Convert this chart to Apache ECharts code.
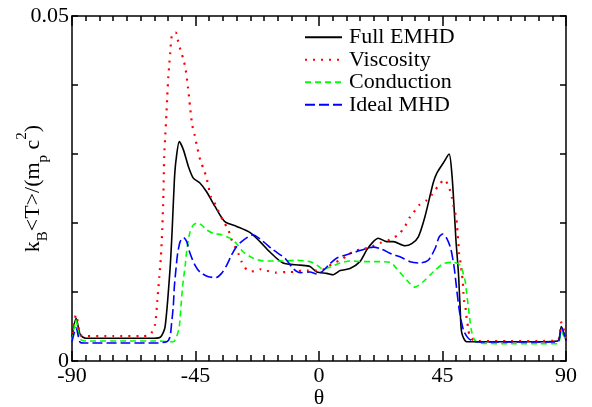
<!DOCTYPE html>
<html><head><meta charset="utf-8">
<script src="https://cdn.jsdelivr.net/npm/echarts@6/dist/echarts.min.js"></script>
<style>html,body{margin:0;padding:0;background:#fff}#c{width:592px;height:407px}</style>
</head><body><div id="c"></div>
<script>
const seriesNames = ['Full EMHD', 'Viscosity', 'Conduction', 'Ideal MHD'];
const xTicks = [-90, -45, 0, 45, 90];
const yTickLabels = ['0', '0.05'];

const fullEMHD = [[-90,0.0035],[-88.5,0.0062],[-87,0.0038],[-85,0.0033],[-70,0.0033],[-60,0.0033],[-57.7,0.0035],[-56.1,0.0049],[-54.3,0.0132],[-53.5,0.0190],[-52.7,0.0262],[-52.1,0.0291],[-50.9,0.0318],[-49.4,0.0306],[-47.6,0.0282],[-45.8,0.0265],[-43.4,0.0258],[-40.9,0.0245],[-37.9,0.0224],[-34.3,0.0202],[-30.0,0.0195],[-25.1,0.0186],[-21.5,0.0173],[-17.9,0.0158],[-13.1,0.0142],[-6.9,0.0139],[-3.3,0.0137],[-0.8,0.0129],[2.8,0.0127],[5.2,0.0125],[7.7,0.0131],[11.3,0.0134],[14.9,0.0144],[17.4,0.0161],[19.8,0.0173],[21.6,0.0178],[24.7,0.0173],[27.1,0.0173],[31.3,0.0167],[33.8,0.0170],[36.2,0.0180],[38.6,0.0209],[41.6,0.0258],[42.9,0.0272],[45.3,0.0287],[47.4,0.0300],[48.4,0.0272],[49.2,0.0224],[49.9,0.0175],[50.8,0.0128],[51.4,0.0079],[52.0,0.0041],[53.8,0.0028],[60,0.0028],[70,0.0028],[80,0.0028],[87,0.0029],[88.3,0.0050],[90,0.0030]];

const viscosity = [[-90,0.0040],[-88.5,0.0067],[-87,0.0038],[-85,0.0036],[-75,0.0036],[-65,0.0036],[-61.6,0.0038],[-59.8,0.0052],[-58.9,0.0088],[-58.2,0.0122],[-57.6,0.0151],[-57.1,0.0192],[-56.7,0.0241],[-56.4,0.0296],[-56.0,0.0328],[-55.6,0.0357],[-55.3,0.0383],[-54.9,0.0412],[-54.5,0.0432],[-54.2,0.0447],[-53.5,0.0474],[-52.2,0.0476],[-51.3,0.0463],[-50.5,0.0451],[-49.4,0.0437],[-48.6,0.0423],[-47.7,0.0395],[-47.0,0.0369],[-46.2,0.0342],[-45.4,0.0329],[-44.3,0.0308],[-43.1,0.0289],[-41.9,0.0277],[-40.9,0.0264],[-39.4,0.0238],[-38.5,0.0233],[-36.3,0.0214],[-34.9,0.0203],[-33.0,0.0190],[-32.2,0.0179],[-30.6,0.0166],[-29.4,0.0156],[-28.2,0.0144],[-26.0,0.0131],[-23.6,0.0130],[-21.1,0.0133],[-19.1,0.0131],[-16.0,0.0128],[-11.8,0.0129],[-8.7,0.0129],[-6.3,0.0131],[-3.9,0.0131],[-1.5,0.0131],[0.4,0.0131],[3.4,0.0137],[5.2,0.0142],[7.7,0.0146],[10.7,0.0154],[13.1,0.0160],[16.1,0.0162],[19.2,0.0166],[22.2,0.0171],[25.9,0.0176],[28.9,0.0183],[31.3,0.0195],[32.9,0.0207],[34.4,0.0215],[36.5,0.0226],[39.2,0.0233],[41.3,0.0242],[43.5,0.0254],[45.7,0.0263],[47.5,0.0250],[48.4,0.0237],[49.0,0.0225],[49.9,0.0210],[50.3,0.0197],[50.5,0.0183],[50.8,0.0171],[51.0,0.0157],[51.6,0.0142],[52.0,0.0128],[52.4,0.0115],[52.6,0.0100],[52.9,0.0086],[53.5,0.0074],[53.8,0.0062],[54.4,0.0047],[55.0,0.0035],[57.2,0.0029],[70,0.0029],[80,0.0029],[87,0.0030],[88.3,0.0056],[90,0.0032]];

const conduction = [[-90,0.0030],[-88.5,0.0059],[-87,0.0032],[-85,0.0029],[-70,0.0029],[-60,0.0029],[-53.1,0.0028],[-51.9,0.0035],[-50.9,0.0050],[-50.3,0.0079],[-49.7,0.0108],[-48.8,0.0137],[-48.0,0.0166],[-47.0,0.0187],[-45.8,0.0197],[-44.3,0.0200],[-42.7,0.0197],[-40.9,0.0190],[-38.5,0.0185],[-35.5,0.0183],[-32.4,0.0178],[-30.0,0.0170],[-27.6,0.0158],[-23.9,0.0149],[-20.3,0.0145],[-13.0,0.0145],[-8.1,0.0146],[-3.3,0.0144],[-0.8,0.0139],[1.6,0.0133],[4.0,0.0136],[7.7,0.0142],[11.3,0.0145],[16.1,0.0144],[21.0,0.0144],[25.9,0.0143],[28.3,0.0134],[32.0,0.0117],[35.0,0.0107],[38.0,0.0115],[41.6,0.0129],[45.3,0.0141],[48.9,0.0143],[51.4,0.0139],[53.2,0.0117],[53.8,0.0098],[54.4,0.0079],[55.0,0.0059],[55.6,0.0043],[56.8,0.0030],[58.7,0.0026],[70,0.0025],[80,0.0025],[87,0.0025],[88.3,0.0042],[90,0.0030]];

const idealMHD = [[-90,0.0028],[-88.5,0.0048],[-87,0.0027],[-85,0.0026],[-70,0.0026],[-60,0.0026],[-55.5,0.0028],[-54.3,0.0035],[-53.7,0.0055],[-53.1,0.0079],[-52.7,0.0108],[-52.1,0.0134],[-51.5,0.0156],[-50.6,0.0173],[-49.4,0.0179],[-48.2,0.0173],[-47.0,0.0156],[-45.2,0.0139],[-43.4,0.0129],[-40.3,0.0122],[-37.5,0.0121],[-35.5,0.0127],[-33.6,0.0139],[-31.8,0.0154],[-30.0,0.0166],[-28.2,0.0173],[-25.8,0.0180],[-24.2,0.0183],[-20.3,0.0173],[-16.7,0.0161],[-12.4,0.0149],[-9.4,0.0134],[-6.9,0.0128],[-3.3,0.0129],[-0.8,0.0126],[1.0,0.0129],[4.0,0.0141],[6.4,0.0149],[10.1,0.0154],[14.9,0.0160],[19.8,0.0165],[22.8,0.0162],[26.5,0.0155],[29.5,0.0151],[33.2,0.0144],[36.8,0.0142],[39.8,0.0146],[42.3,0.0163],[43.8,0.0180],[45.1,0.0184],[46.5,0.0178],[48.0,0.0163],[49.2,0.0137],[50.2,0.0103],[51.1,0.0074],[52.0,0.0055],[52.8,0.0043],[54.4,0.0033],[56.8,0.0028],[70,0.00275],[80,0.00275],[87,0.0028],[88.3,0.0049],[90,0.0029]];

const FONT = 'Liberation Serif, Times New Roman, Times, DejaVu Serif, serif';
const chart = echarts.init(document.getElementById('c'), null, {renderer: 'canvas'});

const axisLineStyle = {color: '#000', width: 1.5};
function mkSeries(name, data, color, type, width) {
  return {
    name: name, type: 'line', data: data, symbol: 'none', smooth: 0.25,
    xAxisIndex: 0, yAxisIndex: 0,
    lineStyle: {color: color, width: width, type: type, cap: 'butt'},
    itemStyle: {color: color}, emphasis: {disabled: true}, animation: false
  };
}

chart.setOption({
  animation: false,
  backgroundColor: '#fff',
  textStyle: {fontFamily: FONT},
  grid: {left: 72, right: 26, top: 16, bottom: 46, containLabel: false, outerBoundsMode: 'none'},
  legend: {
    data: seriesNames, orient: 'vertical', left: 299, top: 21,
    itemWidth: 37, itemHeight: 10, itemGap: 0,
    itemStyle: {color: 'rgba(0,0,0,0)', opacity: 0, borderWidth: 0},
    textStyle: {fontFamily: FONT, fontSize: 22, color: '#000', lineHeight: 22.5, padding: [0,0,0,2]},
    selectedMode: false
  },
  xAxis: [{
    type: 'value', min: -90, max: 90, interval: 45, position: 'bottom',
    axisLine: {show: true, lineStyle: axisLineStyle, onZero: false},
    axisTick: {show: true, inside: true, length: 10, lineStyle: {color: '#000', width: 1.5}},
    minorTick: {show: true, splitNumber: 9, length: 6, lineStyle: {color: '#000', width: 1.5}},
    splitLine: {show: false},
    axisLabel: {fontFamily: FONT, fontSize: 22, color: '#000', margin: 4,
      formatter: v => xTicks.indexOf(v) >= 0 ? String(v) : ''},
    name: 'θ', nameLocation: 'middle', nameGap: 26, nameMoveOverlap: false,
    nameTextStyle: {fontFamily: FONT, fontSize: 22, color: '#000', lineHeight: 22}
  }, {
    type: 'value', min: -90, max: 90, interval: 45, position: 'top',
    axisLine: {show: true, lineStyle: axisLineStyle, onZero: false},
    axisTick: {show: true, inside: true, length: 10, lineStyle: {color: '#000', width: 1.5}},
    minorTick: {show: true, splitNumber: 9, length: 5, lineStyle: {color: '#000', width: 1.5}},
    splitLine: {show: false}, axisLabel: {show: false}
  }],
  yAxis: [{
    type: 'value', min: 0, max: 0.05, interval: 0.01, position: 'left',
    axisLine: {show: true, lineStyle: axisLineStyle, onZero: false},
    axisTick: {show: true, inside: true, length: 6, lineStyle: {color: '#000', width: 1.5}},
    splitLine: {show: false},
    axisLabel: {fontFamily: FONT, fontSize: 22, color: '#000', margin: 3,
      formatter: v => (Math.abs(v) < 1e-9 ? yTickLabels[0] : (Math.abs(v - 0.05) < 1e-9 ? yTickLabels[1] : ''))},
    name: '{n|k}{s|B}{n|<T>/(m}{s|p}{n| c}{u|2}{n|)}',
    nameLocation: 'middle', nameGap: 21, nameRotate: 90, nameMoveOverlap: false,
    nameTextStyle: {
      fontFamily: FONT, fontSize: 22, color: '#000', lineHeight: 36,
      rich: {
        n: {fontFamily: FONT, fontSize: 22, color: '#000', lineHeight: 36, verticalAlign: 'middle'},
        s: {fontFamily: FONT, fontSize: 15, color: '#000', lineHeight: 15, verticalAlign: 'bottom'},
        u: {fontFamily: FONT, fontSize: 15, color: '#000', lineHeight: 15, verticalAlign: 'top'}
      }
    }
  }, {
    type: 'value', min: 0, max: 0.05, interval: 0.01, position: 'right',
    axisLine: {show: true, lineStyle: axisLineStyle, onZero: false},
    axisTick: {show: true, inside: true, length: 6, lineStyle: {color: '#000', width: 1.5}},
    splitLine: {show: false}, axisLabel: {show: false}
  }],
  series: [
    mkSeries(seriesNames[0], fullEMHD, '#000000', 'solid', 1.6),
    mkSeries(seriesNames[1], viscosity, '#ff0000', [2, 6], 2.2),
    mkSeries(seriesNames[2], conduction, '#00ff00', [6, 4], 1.6),
    mkSeries(seriesNames[3], idealMHD, '#0000ff', [10, 4], 1.6)
  ]
});
</script></body></html>
